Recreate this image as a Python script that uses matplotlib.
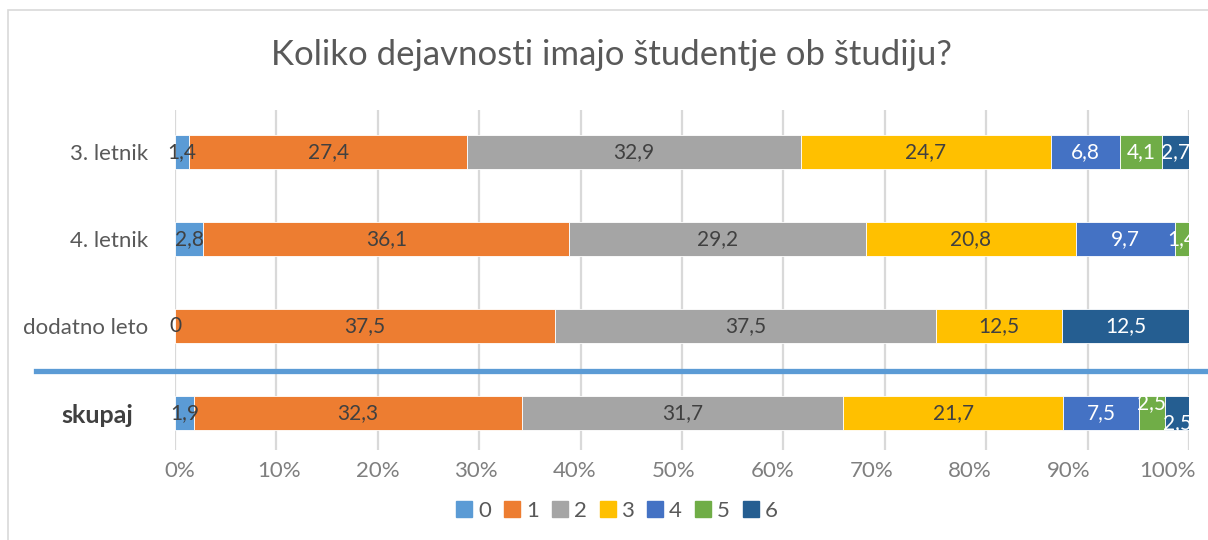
import matplotlib
matplotlib.use("Agg")
import matplotlib.pyplot as plt
from matplotlib.lines import Line2D
from matplotlib.patches import Rectangle
import numpy as np

plt.rcParams['font.family'] = ['Lato', 'DejaVu Sans']

title = "Koliko dejavnosti imajo študentje ob študiju?"
categories = ["3. letnik", "4. letnik", "dodatno leto", "skupaj"]
series_names = ["0", "1", "2", "3", "4", "5", "6"]
values = {
    "0": [1.4, 2.8, 0.0, 1.9],
    "1": [27.4, 36.1, 37.5, 32.3],
    "2": [32.9, 29.2, 37.5, 31.7],
    "3": [24.7, 20.8, 12.5, 21.7],
    "4": [6.8, 9.7, 0.0, 7.5],
    "5": [4.1, 1.4, 0.0, 2.5],
    "6": [2.7, 0.0, 12.5, 2.5],
}
colors = ["#5B9BD5", "#ED7D31", "#A5A5A5", "#FFC000", "#4472C4", "#70AD47", "#255E91"]
label_colors = ["#404040", "#404040", "#404040", "#404040", "white", "white", "white"]
xticks = list(range(0, 101, 10))
xtick_labels = [f"{t}%" for t in xticks]

W, H = 1208, 540
fig = plt.figure(figsize=(W / 100, H / 100), dpi=100)

def fx(px):
    return px / W

def fy(py):
    return 1 - py / H

# chart border
fig.add_artist(Rectangle((fx(8), fy(560)), fx(1220) - fx(8), fy(10) - fy(560),
                         transform=fig.transFigure, fill=False,
                         edgecolor="#D9D9D9", linewidth=1.2))

ax_left, ax_right, ax_top, ax_bottom = 175, 1189, 110, 450
ax = fig.add_axes([fx(ax_left), fy(ax_bottom), fx(ax_right) - fx(ax_left), fy(ax_top) - fy(ax_bottom)])

def fmt(v):
    if v == 0:
        return "0"
    return f"{v:.1f}".replace(".", ",")

y = np.arange(len(categories))
left = np.zeros(len(categories))
bar_h = 0.40
for i, s in enumerate(series_names):
    v = np.array(values[s])
    ax.barh(y, v, left=left, height=bar_h, color=colors[i], edgecolor="white", linewidth=0.6, zorder=3)
    for j, val in enumerate(v):
        show = val > 0 or (s == "0" and categories[j] == "dodatno leto")
        if not show:
            continue
        dy = 0.0
        if categories[j] == "skupaj" and s == "5":
            dy = -0.11
        if categories[j] == "skupaj" and s == "6":
            dy = 0.12
        ax.text(left[j] + val / 2, y[j] + dy, fmt(val),
                ha="center", va="center", fontsize=15, color=label_colors[i], zorder=4)
    left += v

ax.set_xlim(0, 100)
ax.set_ylim(3.425, -0.483)
ax.set_yticks(y)
ax.set_yticklabels(categories)
ax.tick_params(axis="y", length=0, pad=19)
for lbl in ax.get_yticklabels():
    lbl.set_color("#595959")
    lbl.set_fontsize(16)
    if lbl.get_text() == "skupaj":
        lbl.set_fontweight("bold")
        lbl.set_color("#404040")
        lbl.set_fontsize(18)
ax.yaxis.get_major_ticks()[3].set_pad(30)

# gridlines at major ticks; labels drawn on minor ticks (rendered slightly offset in reference)
ax.set_xticks(xticks)
ax.set_xticklabels([""] * len(xticks))
ax.set_xticks([0.49 + 0.974 * t for t in xticks], minor=True)
ax.set_xticklabels(xtick_labels, minor=True)
ax.tick_params(axis="x", which="both", length=0)
ax.tick_params(axis="x", which="minor", pad=8, labelsize=16, labelcolor="#7F7F7F")
ax.grid(axis="x", which="major", color="#D9D9D9", linewidth=1.6, zorder=0)
for sp in ax.spines.values():
    sp.set_visible(False)

# separator line
fig.add_artist(Line2D([fx(36), fx(1206)], [fy(371), fy(371)], transform=fig.transFigure,
                      color="#5B9BD5", linewidth=3.8))

fig.text(fx(611), fy(55), title, ha="center", va="center", fontsize=25, color="#595959")

handles = [Rectangle((0, 0), 1, 1, color=c) for c in colors]
fig.legend(handles, series_names, loc="center", bbox_to_anchor=(fx(617), fy(511)), ncol=7,
           frameon=False, fontsize=16, handlelength=0.72, handleheight=0.72, handletextpad=0.25,
           columnspacing=0.6, labelcolor="#595959")

fig.savefig("out.png", dpi=100)
